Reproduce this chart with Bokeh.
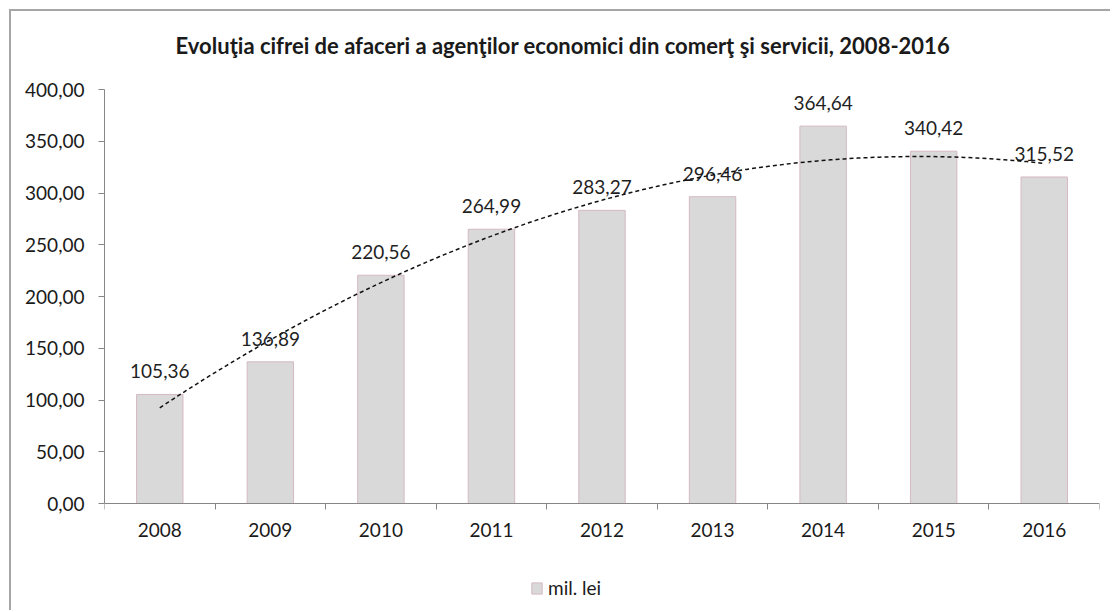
import numpy as np
from bokeh.plotting import figure
from bokeh.models import (Range1d, FixedTicker, Legend, LegendItem, Label,
                          ColumnDataSource)
from bokeh.core.properties import value
from bokeh.embed import file_html
from bokeh.resources import INLINE

years = ["2008", "2009", "2010", "2011", "2012", "2013", "2014", "2015", "2016"]
values = [105.36, 136.89, 220.56, 264.99, 283.27, 296.46, 364.64, 340.42, 315.52]
y_ticks = [0, 50, 100, 150, 200, 250, 300, 350, 400]
title_text = "Evoluţia cifrei de afaceri a agenţilor economici din comerţ şi servicii,  2008-2016"
series_name = "mil. lei"

FONT = "Lato"
xs = list(range(1, len(years) + 1))
labels = [f"{v:.2f}".replace(".", ",") for v in values]

# frame spans the full canvas height; axes are pinned at 0 / bounded to 0..400
p = figure(width=1101, height=601, output_backend="svg", toolbar_location=None,
           x_range=Range1d(0.5, len(years) + 0.5), y_range=Range1d(-105.3, 475.4),
           min_border_left=93, min_border_right=13, min_border_top=0,
           min_border_bottom=0)
p.styles = {"margin-left": "9px", "margin-top": "9px",
            "border-left": "2px solid #a6a6a6", "border-top": "2px solid #a6a6a6"}
p.outline_line_color = None
p.xgrid.visible = False
p.ygrid.visible = False
p.background_fill_color = "white"
p.border_fill_color = "white"

src = ColumnDataSource(dict(x=xs, top=values, lab=labels))
bars = p.vbar(x="x", top="top", width=0.42, source=src,
              fill_color="#d9d9d9", line_color="#d5b9c0", line_width=1)

p.text(x="x", y="top", text="lab", source=src, text_align="center",
       text_baseline="bottom", y_offset=-16, text_font=value(FONT),
       text_font_size="19px", text_color="#1f1f1f")

# polynomial (order 2) trendline fitted to the data
coef = np.polyfit(xs, values, 2)
tx = np.linspace(xs[0], xs[-1], 200)
p.line(tx, np.polyval(coef, tx), line_color="#111111", line_width=1.5,
       line_dash="4 3")

# y axis
ya = p.yaxis[0]
ya.ticker = FixedTicker(ticks=y_ticks)
ya.bounds = (y_ticks[0], y_ticks[-1])
ya.major_label_overrides = {t: f"{t},00" for t in y_ticks}
ya.major_label_text_font = FONT
ya.major_label_text_font_size = "19px"
ya.major_label_text_color = "#1a1a1a"
ya.axis_line_color = "#868686"
ya.major_tick_line_color = "#868686"
ya.major_tick_in = 0
ya.major_tick_out = 6
ya.minor_tick_line_color = None
ya.major_label_standoff = 14

# x axis, pinned at y = 0
xa = p.xaxis[0]
xa.fixed_location = 0
xa.ticker = FixedTicker(ticks=xs, minor_ticks=[x - 0.5 for x in xs] + [xs[-1] + 0.5])
xa.major_label_overrides = {x: y for x, y in zip(xs, years)}
xa.major_label_text_font = FONT
xa.major_label_text_font_size = "19px"
xa.major_label_text_color = "#1a1a1a"
xa.axis_line_color = "#868686"
xa.major_tick_line_color = None
xa.minor_tick_line_color = "#868686"
xa.minor_tick_in = 0
xa.minor_tick_out = 6
xa.major_label_standoff = 13

title = Label(x=4.67, y=442.5, text=title_text, text_align="center",
              text_baseline="middle", text_font=FONT, text_font_size="22px",
              text_font_style="bold", text_color="#1a1a1a")
p.add_layout(title)

legend = Legend(items=[LegendItem(label=series_name, renderers=[bars])],
                location=(426, 13), glyph_width=13, glyph_height=14,
                label_text_font=FONT, label_text_font_size="19px",
                label_text_color="#1a1a1a", background_fill_alpha=0,
                border_line_color=None, padding=2, label_standoff=5,
                margin=0)
p.add_layout(legend)

open("out.html", "w").write(file_html(p, INLINE))
